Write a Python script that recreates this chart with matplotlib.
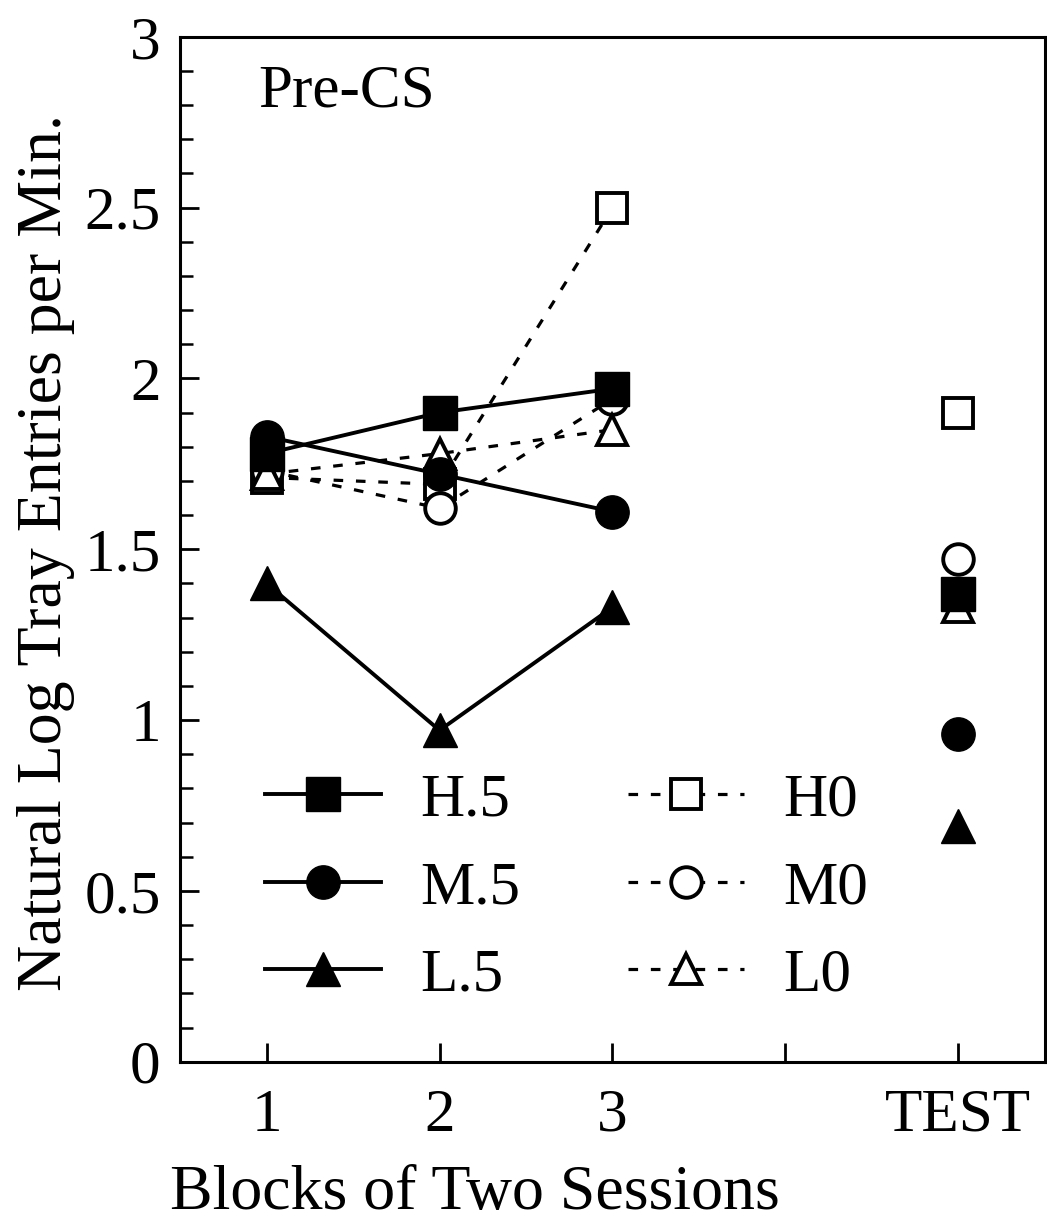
import matplotlib
matplotlib.use("Agg")
from matplotlib import pyplot as plt
from matplotlib.ticker import MultipleLocator

plt.rcParams['font.family'] = ['Liberation Serif', 'DejaVu Serif']

# block positions; TEST sits at 5
blocks = [1, 2, 3]
test_x = 5
x_ticks = [1, 2, 3, 4, 5]
x_labels = ["1", "2", "3", "", "TEST"]

# training blocks
h5 = [1.78, 1.90, 1.97]
m5 = [1.83, 1.72, 1.61]
l5 = [1.40, 0.97, 1.33]
h0 = [1.71, 1.69, 2.50]
m0 = [1.73, 1.62, 1.94]
l0 = [1.72, 1.78, 1.85]

# test values
h5_test = 1.37
m5_test = 0.96
l5_test = 0.69
h0_test = 1.90
m0_test = 1.47
l0_test = 1.33

fig = plt.figure(figsize=(10.47, 12.26), dpi=100)
ax = fig.add_axes([0.172, 0.134, 0.826, 0.836])

solid = dict(color="black", lw=2.8, ls="-", ms=24, mfc="black", mec="black")
dash = dict(color="black", lw=2.3, ls=(0, (3, 4)), ms=22, mfc="white", mec="black", mew=2.8)
open_pt = dict(ls="none", ms=22, mfc="white", mec="black", mew=2.8)

ax.plot(blocks, h0, marker="s", label="H0", **dash)
ax.plot(blocks, m0, marker="o", label="M0", **dash)
ax.plot(blocks, l0, marker="^", label="L0", **dash)
ax.plot(blocks, h5, marker="s", label="H.5", **solid)
ax.plot(blocks, m5, marker="o", label="M.5", **solid)
ax.plot(blocks, l5, marker="^", label="L.5", **solid)

# test points, no lines
ax.plot(test_x, h0_test, marker="s", **open_pt)
ax.plot(test_x, m0_test, marker="o", **open_pt)
ax.plot(test_x, l0_test, marker="^", **open_pt)
ax.plot(test_x, h5_test, marker="s", ls="none", ms=24, color="black")
ax.plot(test_x, m5_test, marker="o", ls="none", ms=24, color="black")
ax.plot(test_x, l5_test, marker="^", ls="none", ms=24, color="black")

ax.set_xlim(0.5, 5.5)
ax.set_ylim(0, 3)
ax.set_xticks(x_ticks)
ax.set_xticklabels(x_labels)
ax.set_yticks([0, 0.5, 1, 1.5, 2, 2.5, 3])
ax.set_yticklabels(["0", "0.5", "1", "1.5", "2", "2.5", "3"])
ax.yaxis.set_minor_locator(MultipleLocator(0.1))
ax.tick_params(axis="both", which="major", direction="in", length=14, width=2,
               labelsize=44)
ax.tick_params(axis="x", which="major", pad=19)
ax.tick_params(axis="y", which="major", pad=14)
ax.tick_params(axis="y", which="minor", direction="in", length=9, width=1.8)
for s in ax.spines.values():
    s.set_linewidth(2.2)

ax.set_xlabel("Blocks of Two Sessions", fontsize=46)
ax.xaxis.set_label_coords(0.341, -0.101)
ax.set_ylabel("Natural Log Tray Entries per Min.", fontsize=46)
ax.yaxis.set_label_coords(-0.122, 0.497)
ax.text(0.09, 0.932, "Pre-CS", transform=ax.transAxes, fontsize=44, va="baseline")

handles, labels = ax.get_legend_handles_labels()
order = [3, 4, 5, 0, 1, 2]
leg = ax.legend([handles[i] for i in order], [labels[i] for i in order],
                ncol=2, frameon=False, loc="upper left",
                bbox_to_anchor=(0.098, 0.282), borderpad=0, borderaxespad=0,
                fontsize=44, handlelength=1.9, handletextpad=0.65,
                labelspacing=0.52, columnspacing=1.75)

fig.savefig("out.png", dpi=100)
